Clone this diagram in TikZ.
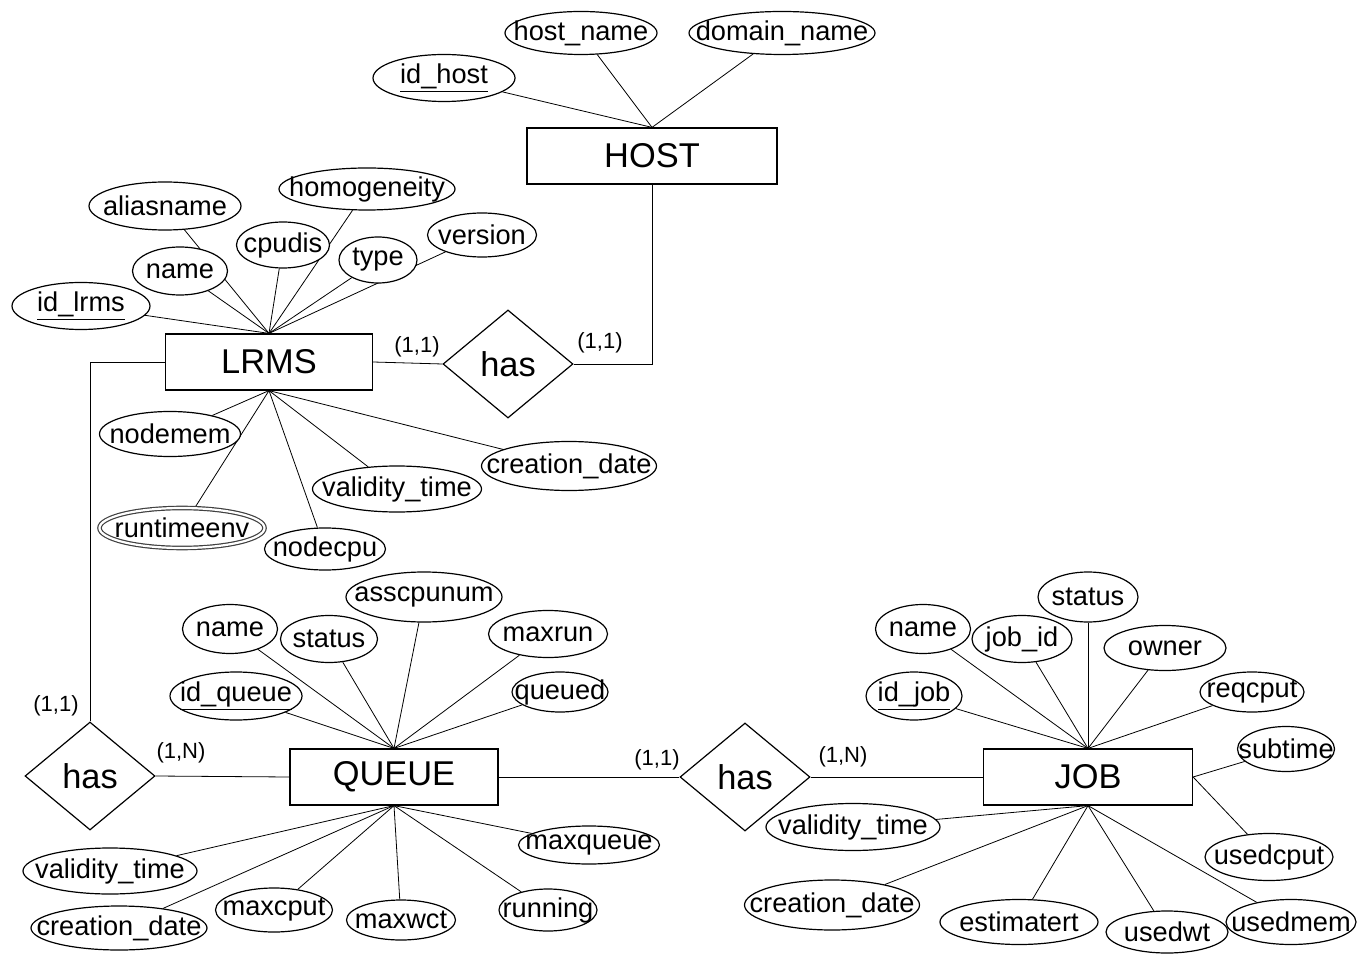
\documentclass[tikz,border=0pt]{standalone}
\usepackage{fontspec}
\setmainfont{Liberation Sans}
\usetikzlibrary{shapes.geometric, backgrounds}

\begin{document}
\begin{tikzpicture}[
  x=0.5pt, y=-0.5pt,
  line width=0.6pt,
  every node/.style={font=\fontsize{13.6}{15}\selectfont},
  attr/.style 2 args={draw, ellipse, fill=white, inner sep=0pt,
    minimum width=#1*0.5pt, minimum height=#2*0.5pt,
    execute at begin node={\hbox to 0pt\bgroup\hss},
    execute at end node={\hss\egroup}},
  entity/.style={draw, fill=white, inner sep=0pt, minimum width=#1*0.5pt,
    minimum height=28pt, font=\fontsize{17.2}{20}\selectfont},
  rel/.style={draw, diamond, fill=white, inner sep=0pt, minimum width=65pt,
    minimum height=54pt, font=\fontsize{17.2}{20}\selectfont},
  card/.style={font=\fontsize{11}{13}\selectfont}
]
\useasboundingbox (0,0) rectangle (1358,956);

% HOST
\node[entity=250] (host) at (652,156) {HOST};
\node[attr={142}{47}] (h-id) at (444,78) {\underline{id\_host}};
\node[attr={152}{43}] (h-name) at (581,33) {host\_name};
\node[attr={186}{43}] (h-domain) at (782,33) {domain\_name};

% LRMS
\node[entity=207] (lrms) at (269,362) {LRMS};
\node[attr={138}{47}] (l-id) at (81,306) {\underline{id\_lrms}};
\node[attr={95}{48}] (l-name) at (180,271) {name};
\node[attr={152}{48}] (l-alias) at (165,206) {aliasname};
\node[attr={93}{46}] (l-cpudis) at (283,245) {cpudis};
\node[attr={176}{42}] (l-homog) at (367,189) {homogeneity};
\node[attr={78}{46}] (l-type) at (378,260) {type};
\node[attr={109}{44}] (l-version) at (482,235) {version};
\node[attr={141}{45}] (l-nodemem) at (170,434) {nodemem};
\node[attr={165}{40}, draw=black!75, double, double distance=1.1pt] (l-runtime) at (182,528) {runtimeenv};
\node[attr={121}{42}] (l-nodecpu) at (325,549) {nodecpu};
\node[attr={169}{46}] (l-validity) at (397,489) {validity\_time};
\node[attr={175}{49}] (l-creation) at (569,466) {creation\_date};

% relationships
\node[rel] (hl) at (508,364) {has};
\node[rel] (hq) at (90,776) {has};
\node[rel] (hj) at (745,777) {has};

% QUEUE
\node[entity=208] (queue) at (394,777) {QUEUE};
\node[attr={132}{48}] (q-id) at (236,696) {\underline{id\_queue}};
\node[attr={95}{49}] (q-name) at (230,629) {name};
\node[attr={97}{47}] (q-status) at (329,639) {status};
\node[attr={156}{50}] (q-asscpu) at (424,597) {asscpunum};
\node[attr={119}{47}] (q-maxrun) at (548,634) {maxrun};
\node[attr={96}{40}] (q-queued) at (560,692) {queued};
\node[attr={174}{46}] (q-validity) at (110,871) {validity\_time};
\node[attr={176}{44}] (q-creation) at (119,928) {creation\_date};
\node[attr={117}{44}] (q-maxcput) at (274,910) {maxcput};
\node[attr={109}{40}] (q-maxwct) at (401,920) {maxwct};
\node[attr={98}{42}] (q-running) at (548,910) {running};
\node[attr={141}{38}] (q-maxqueue) at (589,845) {maxqueue};

% JOB
\node[entity=209] (job) at (1088,777) {JOB};
\node[attr={96}{48}] (j-id) at (914,696) {\underline{id\_job}};
\node[attr={95}{49}] (j-name) at (923,629) {name};
\node[attr={100}{47}] (j-jobid) at (1022,639) {job\_id};
\node[attr={100}{50}] (j-status) at (1088,597) {status};
\node[attr={122}{45}] (j-owner) at (1165,648) {owner};
\node[attr={104}{40}] (j-reqcput) at (1252,692) {reqcput};
\node[attr={97}{45}] (j-subtime) at (1286,749) {subtime};
\node[attr={128}{47}] (j-usedcput) at (1269,857) {usedcput};
\node[attr={174}{47}] (j-validity) at (853,827) {validity\_time};
\node[attr={175}{50}] (j-creation) at (832,905) {creation\_date};
\node[attr={158}{45}] (j-estim) at (1019,922) {estimatert};
\node[attr={122}{42}] (j-usedwt) at (1167,932) {usedwt};
\node[attr={130}{45}] (j-usedmem) at (1291,922) {usedmem};

% cardinalities
\node[card] (c-lh) at (417,347) {(1,1)};
\node[card] (c-hl) at (600,343) {(1,1)};
\node[card] (c-lq) at (56,706) {(1,1)};
\node[card] (c-ql) at (181,753) {(1,N)};
\node[card] (c-qj) at (657,760) {(1,1)};
\node[card] (c-jq) at (843,757) {(1,N)};

% connectors behind the nodes
\begin{scope}[on background layer]
  \foreach \a in {h-id,h-name,h-domain}
    \draw (\a) -- (host.north);
  \foreach \a in {l-id,l-name,l-alias,l-cpudis,l-homog,l-type,l-version}
    \draw (\a) -- (lrms.north);
  \foreach \a in {l-nodemem,l-runtime,l-nodecpu,l-validity,l-creation}
    \draw (\a) -- (lrms.south);
  \foreach \a in {q-id,q-name,q-status,q-asscpu,q-maxrun,q-queued}
    \draw (\a) -- (queue.north);
  \foreach \a in {q-validity,q-creation,q-maxcput,q-maxwct,q-running,q-maxqueue}
    \draw (\a) -- (queue.south);
  \foreach \a in {j-id,j-name,j-jobid,j-status,j-owner,j-reqcput}
    \draw (\a) -- (job.north);
  \foreach \a in {j-validity,j-creation,j-estim,j-usedwt,j-usedmem}
    \draw (\a) -- (job.south);
  \foreach \a in {j-subtime,j-usedcput}
    \draw (\a) -- (job.east);
  % relationship links
  \draw (lrms.east) -- (hl.west);
  \draw (hl.east) -| (host.south);
  \draw (lrms.west) -| (hq.north);
  \draw (hq.east) -- (queue.west);
  \draw (queue.east) -- (hj.west);
  \draw (hj.east) -- (job.west);
\end{scope}

\end{tikzpicture}
\end{document}
